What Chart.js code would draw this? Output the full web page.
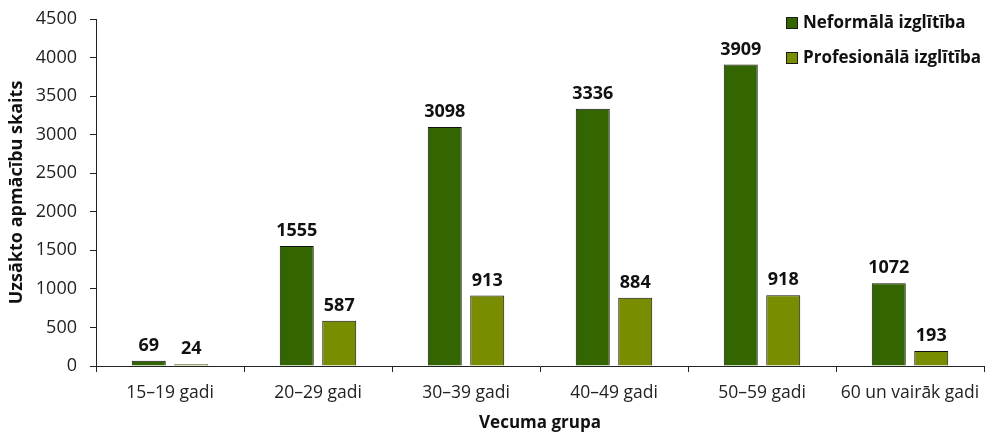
<!DOCTYPE html>
<html>
<head>
<meta charset="utf-8">
<script src="https://cdn.jsdelivr.net/npm/chart.js@4/dist/chart.umd.min.js"></script>
<style>
  html, body { margin: 0; padding: 0; background: #fff; }
  #wrap { width: 987px; height: 433px; position: relative; }
</style>
</head>
<body>
<div id="wrap"><canvas id="c" width="987" height="433"></canvas></div>
<script>
// Age groups and number of started trainings
const categories = ['15–19 gadi', '20–29 gadi', '30–39 gadi', '40–49 gadi', '50–59 gadi', '60 un vairāk gadi'];
const seriesNames = ['Neformālā izglītība', 'Profesionālā izglītība'];
const neformala = [69, 1555, 3098, 3336, 3909, 1072];
const profesionala = [24, 587, 913, 884, 918, 193];
const yTicks = [0, 500, 1000, 1500, 2000, 2500, 3000, 3500, 4000, 4500];

const FONT = '"Open Sans", sans-serif';
const colors = ['#336600', '#7A8C00'];

// Value labels above each bar
const valueLabels = {
  id: 'valueLabels',
  afterDatasetsDraw(chart) {
    const ctx = chart.ctx;
    ctx.save();
    ctx.font = 'bold 18px ' + FONT;
    ctx.fillStyle = '#111';
    ctx.textAlign = 'center';
    ctx.textBaseline = 'alphabetic';
    chart.data.datasets.forEach((ds, i) => {
      chart.getDatasetMeta(i).data.forEach((bar, j) => {
        ctx.fillText(String(ds.data[j]), bar.x, bar.y - 10);
      });
    });
    ctx.restore();
  }
};

// Legend drawn in the upper right corner of the plot
const cornerLegend = {
  id: 'cornerLegend',
  afterDraw(chart) {
    const ctx = chart.ctx;
    ctx.save();
    ctx.font = 'bold 17px ' + FONT;
    ctx.textBaseline = 'middle';
    ctx.textAlign = 'left';
    chart.data.datasets.forEach((ds, i) => {
      const cy = 23 + i * 35;
      ctx.fillStyle = ds.backgroundColor;
      ctx.fillRect(786, cy - 6, 12, 12);
      ctx.strokeStyle = '#1a1a1a';
      ctx.lineWidth = 1;
      ctx.strokeRect(786.5, cy - 5.5, 11, 11);
      ctx.fillStyle = '#111';
      ctx.fillText(ds.label, 803, cy);
    });
    ctx.restore();
  }
};

new Chart(document.getElementById('c'), {
  type: 'bar',
  data: {
    labels: categories,
    datasets: [
      { label: seriesNames[0], data: neformala, backgroundColor: colors[0], borderColor: '#111', borderWidth: 1, borderSkipped: 'start' },
      { label: seriesNames[1], data: profesionala, backgroundColor: colors[1], borderColor: '#111', borderWidth: 1, borderSkipped: 'start' }
    ]
  },
  options: {
    responsive: false,
    animation: false,
    devicePixelRatio: 1,
    categoryPercentage: 0.574,
    barPercentage: 0.8,
    layout: { padding: { top: 19, right: 3, left: 0, bottom: 0 } },
    plugins: { legend: { display: false }, tooltip: { enabled: false } },
    scales: {
      x: {
        offset: true,
        grid: { offset: true, drawOnChartArea: false, drawTicks: true, tickLength: 6, color: '#222' },
        border: { display: true, color: '#222', width: 1 },
        ticks: { color: '#222', font: { family: FONT, size: 17.5 }, padding: 11, maxRotation: 0, autoSkip: false },
        title: { display: true, text: 'Vecuma grupa', color: '#111', font: { family: FONT, size: 17, weight: 'bold' }, padding: { top: 2, bottom: 0 } },
        afterFit(scale) { scale.height = 67; scale.paddingLeft = 0; scale.paddingRight = 0; }
      },
      y: {
        min: 0,
        max: 4500,
        afterBuildTicks(scale) { scale.ticks = yTicks.map(v => ({ value: v })); },
        grid: { drawOnChartArea: false, drawTicks: true, tickLength: 6, color: '#222' },
        border: { display: true, color: '#222', width: 1 },
        ticks: { color: '#222', font: { family: FONT, size: 18 }, padding: 13, callback: v => String(v) },
        title: { display: true, text: 'Uzsākto apmācību skaits', color: '#111', font: { family: FONT, size: 18, weight: 'bold' }, padding: { top: 6, bottom: 2 } },
        afterFit(scale) { scale.width = 96; scale.paddingTop = 0; scale.paddingBottom = 0; }
      }
    }
  },
  plugins: [valueLabels, cornerLegend]
});
</script>
</body>
</html>
